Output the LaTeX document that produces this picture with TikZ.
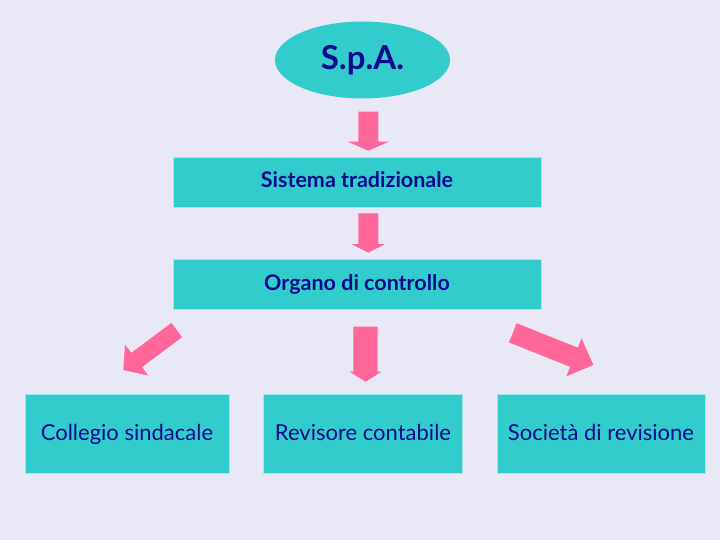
\documentclass[tikz,border=0pt]{standalone}
\usepackage{fontspec}
\setmainfont{Lato}
\usetikzlibrary{calc,shapes.geometric}
\definecolor{bgc}{RGB}{232,232,246}
\definecolor{cyanc}{RGB}{51,204,204}
\definecolor{pinkc}{RGB}{255,102,153}
\definecolor{navyc}{RGB}{10,10,140}
\newcommand{\pinkarrow}[5]{%
  \coordinate (#2-hb) at ($(#2)!#5!(#1)$);
  \fill[pinkc] ($(#1)!#3!90:(#2)$) -- ($(#2-hb)!#3!-90:(#1)$)
    -- ($(#2-hb)!#4!-90:(#1)$) -- (#2) -- ($(#2-hb)!#4!90:(#1)$)
    -- ($(#2-hb)!#3!90:(#1)$) -- ($(#1)!#3!-90:(#2)$) -- cycle;}
\begin{document}
\begin{tikzpicture}[x=1pt,y=-1pt,
  box/.style={rectangle,fill=cyanc,draw=white!55!cyanc,line width=0.8pt,inner sep=0pt,text=navyc},
  topbox/.style={box,minimum width=368pt,minimum height=50pt,text height=16pt,text depth=4pt,
    font=\fontsize{21.5}{24}\selectfont\bfseries},
  botbox/.style={box,minimum height=79pt,text height=17pt,text depth=3.6pt,
    font=\fontsize{22}{25}\selectfont}]
\useasboundingbox (0,0) rectangle (720,540);
\fill[bgc] (0,0) rectangle (720,540);
\node[ellipse,fill=cyanc,inner sep=0pt,minimum width=175pt,minimum height=77pt,
  text=navyc,font=\fontsize{33}{36}\selectfont\bfseries] (spa) at (362.5,60) {S.p.A.};
\node[topbox] (sis) at (357,182) {Sistema tradizionale};
\node[topbox] (org) at (357,284) {Organo di controllo};
\node[botbox,minimum width=204pt] (col) at (127,434) {Collegio sindacale};
\node[botbox,minimum width=199pt] (rev) at (363,434) {Revisore contabile};
\node[botbox,minimum width=208pt] (soc) at (601,434) {Società di revisione};
% arrow ends
\coordinate (a1t) at (368.3,111.7); \coordinate (a1h) at (368.3,150.7);
\coordinate (a2t) at (368.3,213.3); \coordinate (a2h) at (368.3,252.7);
\coordinate (alt) at (176.7,330);   \coordinate (alh) at (123.3,370);
\coordinate (amt) at (365.5,326.7); \coordinate (amh) at (365.5,381.7);
\coordinate (art) at (512.8,332.8); \coordinate (arh) at (593.3,365);
\pinkarrow{a1t}{a1h}{10pt}{20.5pt}{9pt}
\pinkarrow{a2t}{a2h}{10pt}{16.5pt}{8.5pt}
\pinkarrow{alt}{alh}{8.9pt}{19.4pt}{16.7pt}
\pinkarrow{amt}{amh}{12.2pt}{16pt}{10pt}
\pinkarrow{art}{arh}{10.3pt}{20.4pt}{20.8pt}
\end{tikzpicture}
\end{document}
